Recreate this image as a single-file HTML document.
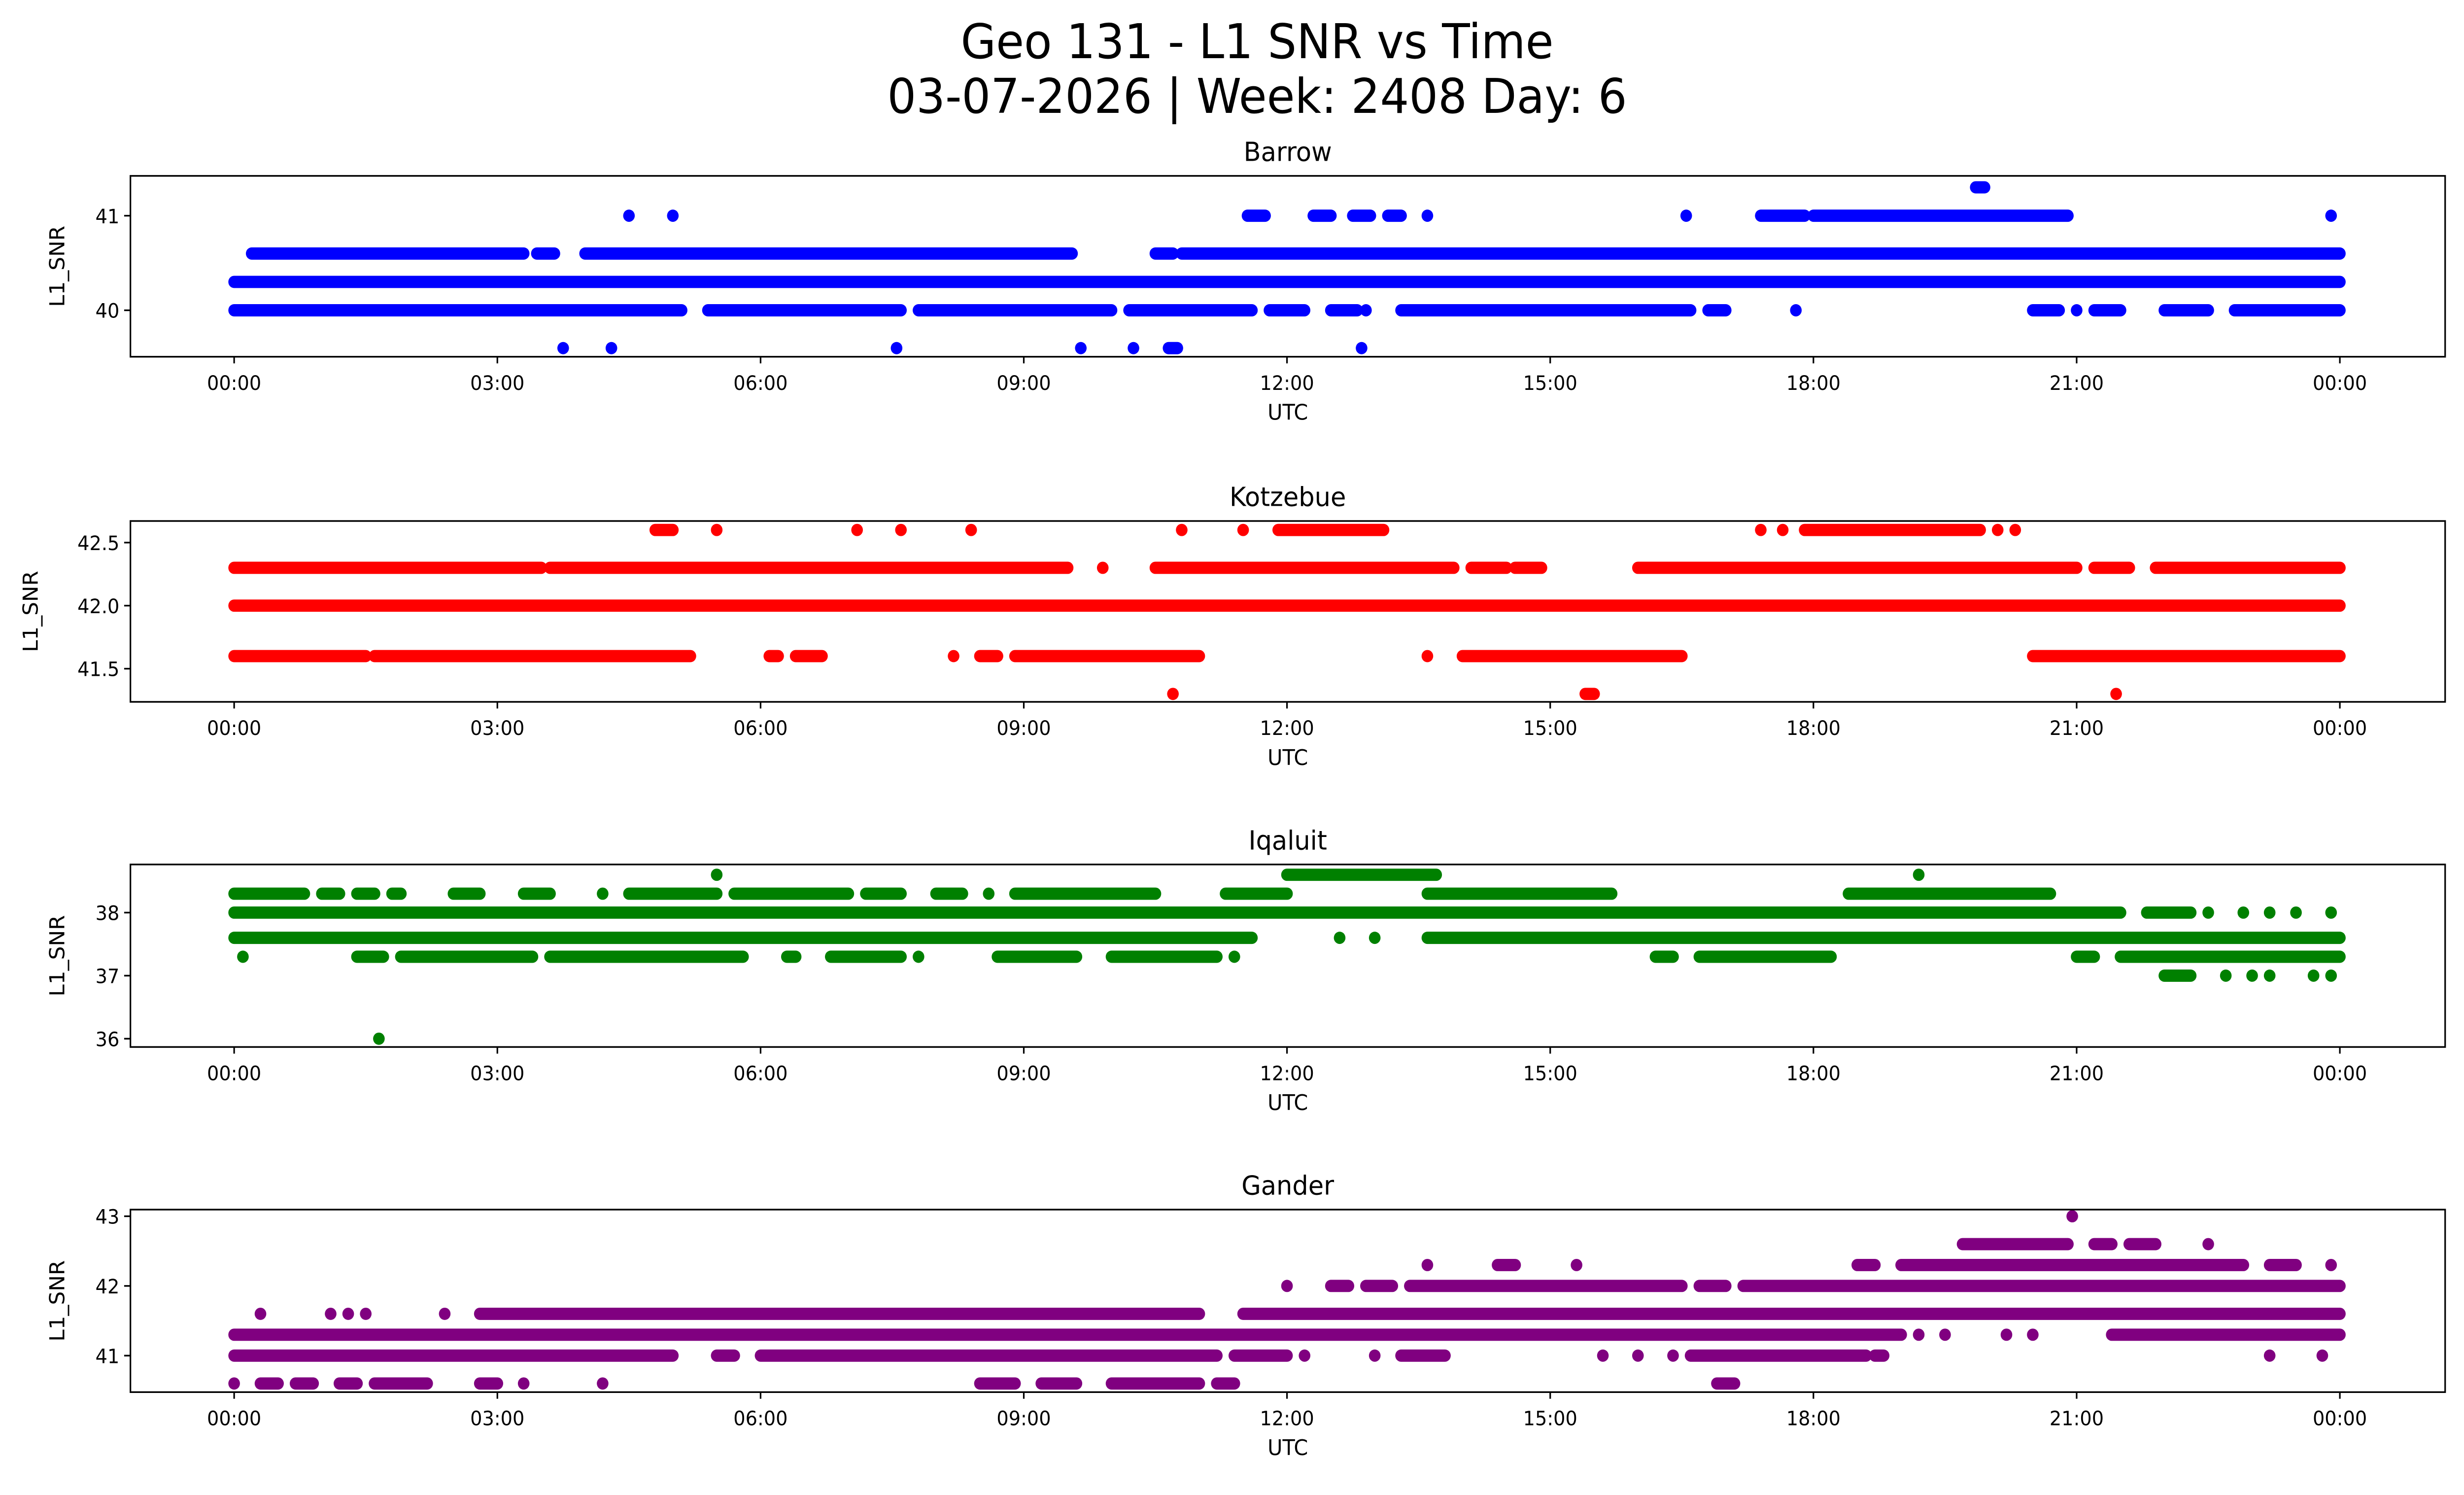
<!DOCTYPE html>
<html><head><meta charset="utf-8"><style>
html,body{margin:0;padding:0;background:#fff;width:100%;height:100%;overflow:hidden}
svg{display:block;position:absolute;left:0;top:0;width:100vw;height:100vh}
text{font-family:"DejaVu Sans","Liberation Sans",sans-serif;fill:#000}
</style></head><body>
<svg id="chart" viewBox="0 0 1568 901" preserveAspectRatio="none" xmlns="http://www.w3.org/2000/svg">
<rect width="1568" height="901" fill="#fff"/>
<text x="800" y="35" font-size="29" text-anchor="middle">Geo 131 - L1 SNR vs Time</text>
<text x="800" y="68" font-size="29" text-anchor="middle">03-07-2026 | Week: 2408 Day: 6</text>
<g id="plots"></g>
</svg>
<script>
// x tick labels (hours)
const xTickHours = [0,3,6,9,12,15,18,21,24];
const xTickLabels = ["00:00","03:00","06:00","09:00","12:00","15:00","18:00","21:00","00:00"];
// station names
const stations = ["Barrow","Kotzebue","Iqaluit","Gander"];
const colors = ["#0000ff","#ff0000","#008000","#800080"];
// y ticks per station
const barrowTicks = [40,41];
const kotzebueTicks = [41.5,42.0,42.5];
const iqaluitTicks = [36,37,38];
const ganderTicks = [41,42,43];
// series: each entry [level, startHour, endHour] (runs of dense samples; single points have start=end)
const barrowData = [
 [40.3,0,24],
 [40.6,0.2,3.3],[40.6,3.45,3.65],[40.6,4.0,9.55],[40.6,10.5,10.7],[40.6,10.8,24],
 [40.0,0,5.1],[40.0,5.4,7.6],[40.0,7.8,10.0],[40.0,10.2,11.6],[40.0,11.8,12.2],[40.0,12.5,12.8],[40.0,12.9,12.9],[40.0,13.3,16.6],[40.0,16.8,17.0],[40.0,17.8,17.8],[40.0,20.5,20.8],[40.0,21.0,21.0],[40.0,21.2,21.5],[40.0,22.0,22.5],[40.0,22.8,24],
 [41.0,4.5,4.5],[41.0,5.0,5.0],[41.0,11.55,11.75],[41.0,12.3,12.5],[41.0,12.75,12.95],[41.0,13.15,13.3],[41.0,13.6,13.6],[41.0,16.55,16.55],[41.0,17.4,17.9],[41.0,18.0,20.9],[41.0,23.9,23.9],
 [39.6,3.75,3.75],[39.6,4.3,4.3],[39.6,7.55,7.55],[39.6,9.65,9.65],[39.6,10.25,10.25],[39.6,10.65,10.75],[39.6,12.85,12.85],
 [41.3,19.85,19.95]
];
const kotzebueData = [
 [42.0,0,24],
 [42.3,0,3.5],[42.3,3.6,9.5],[42.3,9.9,9.9],[42.3,10.5,13.9],[42.3,14.1,14.5],[42.3,14.6,14.9],[42.3,16.0,21.0],[42.3,21.2,21.6],[42.3,21.9,24],
 [41.6,0,1.5],[41.6,1.6,5.2],[41.6,6.1,6.2],[41.6,6.4,6.7],[41.6,8.2,8.2],[41.6,8.5,8.7],[41.6,8.9,11.0],[41.6,13.6,13.6],[41.6,14.0,16.5],[41.6,20.5,24],
 [42.6,4.8,5.0],[42.6,5.5,5.5],[42.6,7.1,7.1],[42.6,7.6,7.6],[42.6,8.4,8.4],[42.6,10.8,10.8],[42.6,11.5,11.5],[42.6,11.9,13.1],[42.6,17.4,17.4],[42.6,17.65,17.65],[42.6,17.9,19.9],[42.6,20.1,20.1],[42.6,20.3,20.3],
 [41.3,10.7,10.7],[41.3,15.4,15.5],[41.3,21.45,21.45]
];
const iqaluitData = [
 [38.0,0,21.5],[38.0,21.8,22.3],[38.0,22.5,22.5],[38.0,22.9,22.9],[38.0,23.2,23.2],[38.0,23.5,23.5],[38.0,23.9,23.9],
 [37.6,0,11.6],[37.6,12.6,12.6],[37.6,13.0,13.0],[37.6,13.6,24],
 [38.3,0,0.8],[38.3,1.0,1.2],[38.3,1.4,1.6],[38.3,1.8,1.9],[38.3,2.5,2.8],[38.3,3.3,3.6],[38.3,4.2,4.2],[38.3,4.5,5.5],[38.3,5.7,7.0],[38.3,7.2,7.6],[38.3,8.0,8.3],[38.3,8.6,8.6],[38.3,8.9,10.5],[38.3,11.3,12.0],[38.3,13.6,15.7],[38.3,18.4,20.7],
 [38.6,5.5,5.5],[38.6,12.0,13.7],[38.6,19.2,19.2],
 [37.3,0.1,0.1],[37.3,1.4,1.7],[37.3,1.9,3.4],[37.3,3.6,5.8],[37.3,6.3,6.4],[37.3,6.8,7.6],[37.3,7.8,7.8],[37.3,8.7,9.6],[37.3,10.0,11.2],[37.3,11.4,11.4],[37.3,16.2,16.4],[37.3,16.7,18.2],[37.3,21.0,21.2],[37.3,21.5,24],
 [37.0,22.0,22.3],[37.0,22.7,22.7],[37.0,23.0,23.0],[37.0,23.2,23.2],[37.0,23.7,23.7],[37.0,23.9,23.9],
 [36.0,1.65,1.65]
];
const ganderData = [
 [41.3,0,19.0],[41.3,19.2,19.2],[41.3,19.5,19.5],[41.3,20.2,20.2],[41.3,20.5,20.5],[41.3,21.4,24],
 [41.0,0,5.0],[41.0,5.5,5.7],[41.0,6.0,11.2],[41.0,11.4,12.0],[41.0,12.2,12.2],[41.0,13.0,13.0],[41.0,13.3,13.8],[41.0,15.6,15.6],[41.0,16.0,16.0],[41.0,16.4,16.4],[41.0,16.6,18.6],[41.0,18.7,18.8],[41.0,23.2,23.2],[41.0,23.8,23.8],
 [41.6,0.3,0.3],[41.6,1.1,1.1],[41.6,1.3,1.3],[41.6,1.5,1.5],[41.6,2.4,2.4],[41.6,2.8,11.0],[41.6,11.5,24],
 [42.0,12.0,12.0],[42.0,12.5,12.7],[42.0,12.9,13.2],[42.0,13.4,16.5],[42.0,16.7,17.0],[42.0,17.2,24],
 [42.3,13.6,13.6],[42.3,14.4,14.6],[42.3,15.3,15.3],[42.3,18.5,18.7],[42.3,19.0,22.9],[42.3,23.2,23.5],[42.3,23.9,23.9],
 [42.6,19.7,20.9],[42.6,21.2,21.4],[42.6,21.6,21.9],[42.6,22.5,22.5],
 [43.0,20.95,20.95],
 [40.6,0,0],[40.6,0.3,0.5],[40.6,0.7,0.9],[40.6,1.2,1.4],[40.6,1.6,2.2],[40.6,2.8,3.0],[40.6,3.3,3.3],[40.6,4.2,4.2],[40.6,8.5,8.9],[40.6,9.2,9.6],[40.6,10.0,11.0],[40.6,11.2,11.4],[40.6,16.9,17.1]
];
const allData=[barrowData,kotzebueData,iqaluitData,ganderData];
const allTicks=[barrowTicks,kotzebueTicks,iqaluitTicks,ganderTicks];
const layout=[
 {top:106,bot:215,v0:40,p0:187,v1:41,p1:130,fmt:v=>String(v)},
 {top:314,bot:423,v0:42.0,p0:365,v1:42.5,p1:327,fmt:v=>v.toFixed(1)},
 {top:521,bot:631,v0:38,p0:550,v1:37,p1:588,fmt:v=>String(v)},
 {top:729,bot:839,v0:42,p0:775,v1:41,p1:817,fmt:v=>String(v)}
];
const L=83,R=1556;
const xScale=h=>149+h*(1489-149)/24;
const NS="http://www.w3.org/2000/svg";
const root=document.getElementById('plots');
function mk(tag,attrs,parent){const e=document.createElementNS(NS,tag);for(const k in attrs)e.setAttribute(k,attrs[k]);(parent||root).appendChild(e);return e;}
stations.forEach((st,i)=>{
 const lay=layout[i];
 const yScale=v=>lay.p0+(v-lay.v0)*(lay.p1-lay.p0)/(lay.v1-lay.v0);
 const g=mk('g',{});
 
 
 const t=mk('text',{x:(L+R)/2,y:lay.top-9,'font-size':16,'text-anchor':'middle'},g);
 t.textContent=st;
 
 
 const mg=mk('g',{stroke:colors[i],'stroke-width':7.4,'stroke-linecap':'round',fill:'none'},g);
 
 
 allData[i].forEach(d=>{
  const y=yScale(d[0]);
  const ln=mk('line',{x1:xScale(d[1]),x2:xScale(d[2]),y1:y,y2:y},mg);
  
  
 });
 const fr=mk('rect',{x:L,y:lay.top,width:R-L,height:lay.bot-lay.top,fill:'none',stroke:'#000','stroke-width':1},g);
 
 
 xTickHours.forEach((h,k)=>{
  const x=xScale(h);
  mk('line',{x1:x,x2:x,y1:lay.bot,y2:lay.bot+4,stroke:'#000','stroke-width':1},g);
  const tl=mk('text',{x:x,y:lay.bot+20,'font-size':12,'text-anchor':'middle'},g);
  tl.textContent=xTickLabels[k];
  
  
 });
 const xl=mk('text',{x:(L+R)/2,y:lay.bot+38,'font-size':13,'text-anchor':'middle'},g);
 xl.textContent='UTC';
 
 
 allTicks[i].forEach(v=>{
  const y=yScale(v);
  mk('line',{x1:L-4,x2:L,y1:y,y2:y,stroke:'#000','stroke-width':1},g);
  const yl=mk('text',{x:L-7,y:y+4.5,'font-size':12,'text-anchor':'end'},g);
  yl.textContent=lay.fmt(v);
  
  
 });
 const cy=(lay.top+lay.bot)/2;
 const yt=mk('text',{x:0,y:0,'font-size':13,'text-anchor':'middle',transform:`translate(${i==1?24:41},${cy}) rotate(-90)`},g);
 yt.textContent='L1_SNR';
 
 
});
</script>
</body></html>
